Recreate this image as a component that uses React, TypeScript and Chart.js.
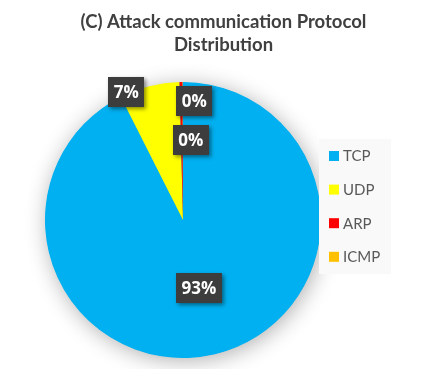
import React, { useEffect, useRef } from "react";
import { Chart, registerables } from "chart.js";

Chart.register(...registerables);

const categories = ["TCP", "UDP", "ARP", "ICMP"];
const shares = [92.55, 7.05, 0.35, 0.05];
const colors = ["#00B0F0", "#FFFF00", "#FF0000", "#FFC000"];
const titleLines = ["(C) Attack communication Protocol", "Distribution"];

// label placement per slice: fraction of radius along mid-angle plus pixel nudge
const labelPlacement = [
  { frac: 0.5, dx: 0, dy: 1 },
  { frac: 1.0, dx: -23, dy: 6 },
  { frac: 0.86, dx: 13, dy: 0 },
  { frac: 0.58, dx: 8, dy: 0 },
];

const titleCenterPlugin = {
  id: "titleCenter",
  afterLayout(chart: any) {
    const t = chart.titleBlock;
    if (t) {
      t.left = 0;
      t.right = chart.width;
      t.width = chart.width;
    }
  },
};

const shadowPlugin = {
  id: "pieShadow",
  beforeDatasetsDraw(chart: any) {
    const ctx = chart.ctx;
    const meta = chart.getDatasetMeta(0);
    const arc = meta.data[0];
    if (!arc) return;
    ctx.save();
    ctx.shadowColor = "rgba(0,0,0,0.32)";
    ctx.shadowBlur = 22;
    ctx.shadowOffsetX = 2;
    ctx.shadowOffsetY = 3;
    ctx.fillStyle = colors[0];
    ctx.beginPath();
    ctx.arc(arc.x, arc.y, arc.outerRadius - 0.5, 0, Math.PI * 2);
    ctx.fill();
    ctx.restore();
  },
};

const legendPlugin = {
  id: "sideLegend",
  afterDraw(chart: any) {
    const ctx = chart.ctx;
    const labels: string[] = chart.data.labels;
    const bg: string[] = chart.data.datasets[0].backgroundColor;
    ctx.save();
    ctx.fillStyle = "#f9f9f9";
    ctx.fillRect(319, 139, 72, 135);
    const x0 = 329;
    const y0 = 156;
    const step = 33.6;
    ctx.font = "15px Lato, 'Open Sans', sans-serif";
    ctx.textBaseline = "middle";
    labels.forEach((lab, i) => {
      const y = y0 + i * step;
      ctx.fillStyle = bg[i];
      ctx.fillRect(x0, y - 5, 10, 10);
      ctx.fillStyle = "#595959";
      ctx.fillText(lab, x0 + 14, y + 0.5);
    });
    ctx.restore();
  },
};

const labelPlugin = {
  id: "pctLabels",
  afterDatasetsDraw(chart: any) {
    const ctx = chart.ctx;
    const meta = chart.getDatasetMeta(0);
    const data: number[] = chart.data.datasets[0].data;
    const total = data.reduce((a, b) => a + b, 0);
    ctx.save();
    ctx.font = "bold 17px 'Open Sans', sans-serif";
    ctx.textAlign = "center";
    ctx.textBaseline = "middle";
    meta.data.forEach((arc: any, i: number) => {
      const p = labelPlacement[i];
      const mid = (arc.startAngle + arc.endAngle) / 2;
      const r = arc.outerRadius * p.frac;
      const cx = arc.x + Math.cos(mid) * r + p.dx;
      const cy = arc.y + Math.sin(mid) * r + p.dy;
      const txt = Math.round((data[i] / total) * 100) + "%";
      const w = ctx.measureText(txt).width + 11;
      const h = 30;
      ctx.save();
      ctx.shadowColor = "rgba(0,0,0,0.45)";
      ctx.shadowBlur = 4;
      ctx.shadowOffsetX = 2;
      ctx.shadowOffsetY = 2;
      ctx.fillStyle = "#3d3d3d";
      ctx.fillRect(Math.round(cx - w / 2), Math.round(cy - h / 2), Math.round(w), h);
      ctx.restore();
      ctx.fillStyle = "#ffffff";
      ctx.fillText(txt, cx, cy + 1);
    });
    ctx.restore();
  },
};

export default function App() {
  const ref = useRef<HTMLCanvasElement | null>(null);
  useEffect(() => {
    if (!ref.current) return;
    const chart = new Chart(ref.current, {
      type: "pie",
      data: {
        labels: categories,
        datasets: [
          {
            data: shares,
            backgroundColor: colors,
            borderWidth: 0,
            hoverOffset: 0,
          },
        ],
      },
      options: {
        animation: false,
        responsive: false,
        maintainAspectRatio: false,
        layout: { padding: { left: 45, right: 126, top: 0, bottom: 11 } },
        plugins: {
          legend: { display: false },
          tooltip: { enabled: false },
          title: {
            display: true,
            text: titleLines,
            color: "#404040",
            font: { family: "Lato, 'Open Sans', sans-serif", size: 18.5, weight: "bold", lineHeight: 1.27 },
            padding: { top: 10, bottom: 25 },
          },
        },
      },
      plugins: [titleCenterPlugin, shadowPlugin, labelPlugin, legendPlugin],
    });
    return () => chart.destroy();
  }, []);
  return (
    <div style={{ position: "fixed", left: 0, top: 0, width: 447, height: 369, background: "#fff" }}>
      <canvas ref={ref} width={447} height={369} style={{ width: 447, height: 369, display: "block" }} />
    </div>
  );
}
